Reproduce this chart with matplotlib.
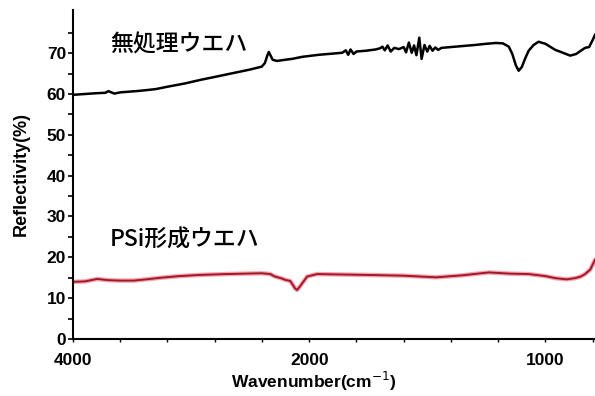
import numpy as np
import matplotlib
matplotlib.use("Agg")
import matplotlib.pyplot as plt
from matplotlib.ticker import FixedLocator

# untreated wafer (black)
wn_raw = [4000, 3900, 3800, 3726, 3700, 3650, 3600, 3427, 3300, 3197, 3050, 2915,
          2780, 2632, 2500, 2402, 2375, 2355, 2342, 2330, 2310, 2274, 2200, 2145,
          2060, 1960, 1900, 1860, 1845, 1835, 1825, 1812, 1800, 1760, 1720, 1700,
          1690, 1680, 1668, 1655, 1640, 1620, 1600, 1590, 1578, 1566, 1556, 1546,
          1534, 1524, 1512, 1500, 1490, 1478, 1466, 1454, 1440, 1420, 1380, 1300,
          1250, 1210, 1180, 1155, 1140, 1125, 1113, 1100, 1085, 1071, 1050, 1029,
          1000, 958, 930, 895, 870, 850, 832, 815, 800, 790]
refl_raw = [59.8, 60.0, 60.2, 60.3, 60.7, 60.1, 60.4, 60.8, 61.2, 61.8, 62.6, 63.5,
            64.3, 65.2, 66.0, 66.7, 67.6, 69.4, 70.3, 69.6, 68.4, 68.1, 68.4, 68.6,
            69.1, 69.6, 69.9, 70.1, 70.7, 69.6, 70.9, 69.8, 70.4, 70.6, 70.9, 71.2,
            71.6, 70.7, 71.9, 70.4, 71.3, 71.0, 71.5, 70.2, 72.6, 70.1, 71.9, 69.5,
            73.8, 68.6, 72.0, 70.4, 71.8, 70.6, 71.4, 70.8, 71.3, 71.4, 71.6, 72.0,
            72.3, 72.5, 72.4, 71.6, 69.8, 67.0, 65.7, 66.6, 68.8, 70.6, 72.0, 72.8,
            72.3, 70.8, 70.2, 69.4, 69.8, 70.6, 71.3, 71.5, 73.2, 74.5]

# porous-Si wafer (red)
wn_psi = [4000, 3900, 3795, 3700, 3600, 3487, 3380, 3256, 3100, 2915, 2700, 2402,
          2330, 2291, 2240, 2205, 2160, 2120, 2103, 2080, 2050, 2017, 1966, 1870,
          1769, 1600, 1462, 1350, 1239, 1150, 1071, 1000, 958, 910, 874, 850,
          832, 810, 790]
refl_psi = [14.0, 14.1, 14.7, 14.4, 14.3, 14.3, 14.6, 15.0, 15.4, 15.7, 15.9, 16.1,
            15.9, 15.3, 14.9, 14.5, 14.2, 12.4, 12.0, 12.8, 14.0, 15.3, 15.9, 15.8,
            15.7, 15.5, 15.1, 15.6, 16.3, 16.0, 15.9, 15.4, 14.9, 14.6, 14.9, 15.3,
            15.9, 17.0, 19.4]

label_raw = "無処理ウエハ"
label_psi = "PSi形成ウエハ"

y_major = [0, 10, 20, 30, 40, 50, 60, 70]
y_minor = [5, 15, 25, 35, 45, 55, 65, 75]
x_major = [4000, 2000, 1000]
x_minor = [3600, 3200, 2800, 2400, 1800, 1600, 1400, 1200, 800]


# FT-IR style axis: 400 cm-1 per division above 2000, 200 cm-1 below
def fwd(x):
    x = np.asarray(x, dtype=float)
    return np.where(x <= 2000, x / 200.0, 10.0 + (x - 2000) / 400.0)


def inv(u):
    u = np.asarray(u, dtype=float)
    return np.where(u <= 10, u * 200.0, 2000 + (u - 10.0) * 400.0)


plt.rcParams['font.family'] = ['Liberation Sans', 'DejaVu Sans']

fig = plt.figure(figsize=(5.95, 3.96), dpi=100)
ax = fig.add_axes([0.1227, 0.144, 0.8773, 0.831])

ax.set_xscale('function', functions=(fwd, inv))

ax.plot(wn_psi, refl_psi, color='#f05a68', lw=3.2, alpha=0.55, solid_capstyle='round')
ax.plot(wn_psi, refl_psi, color='#a0182c', lw=1.4)
ax.plot(wn_raw, refl_raw, color='black', lw=1.8)

ax.set_xlim(4000, 790)
ax.set_ylim(0, 80.6)

ax.xaxis.set_major_locator(FixedLocator(x_major))
ax.xaxis.set_minor_locator(FixedLocator(x_minor))
ax.set_xticklabels([str(v) for v in x_major])
ax.yaxis.set_major_locator(FixedLocator(y_major))
ax.yaxis.set_minor_locator(FixedLocator(y_minor))
ax.set_yticklabels([str(v) for v in y_major])

for s in ['top', 'right']:
    ax.spines[s].set_visible(False)
for s in ['left', 'bottom']:
    ax.spines[s].set_linewidth(1.5)

ax.tick_params(axis='y', which='both', direction='out', length=3.5, width=1.2, pad=1.5,
               labelsize=12.5)
ax.tick_params(axis='x', which='both', direction='out', length=2.5, width=1.0, pad=7.5,
               labelsize=12.5)
for lab in ax.get_xticklabels() + ax.get_yticklabels():
    lab.set_fontweight('bold')

ax.set_xlabel("Wavenumber(cm$^{-1}$)", fontsize=12.5, fontweight='bold', labelpad=1.5)
ax.xaxis.label.set_x(0.462)
ax.set_ylabel("Reflectivity(%)", fontsize=13, fontweight='bold', labelpad=12)

cjk = ['Noto Sans CJK JP', 'DejaVu Sans']
ax.text(0.071, 0.894, label_raw, transform=ax.transAxes, fontsize=16.5,
        family=cjk, fontweight='medium', va='center', ha='left')
ax.text(0.071, 0.30, label_psi, transform=ax.transAxes, fontsize=16.5,
        family=cjk, fontweight='medium', va='center', ha='left')

fig.savefig("out.png", dpi=100)
